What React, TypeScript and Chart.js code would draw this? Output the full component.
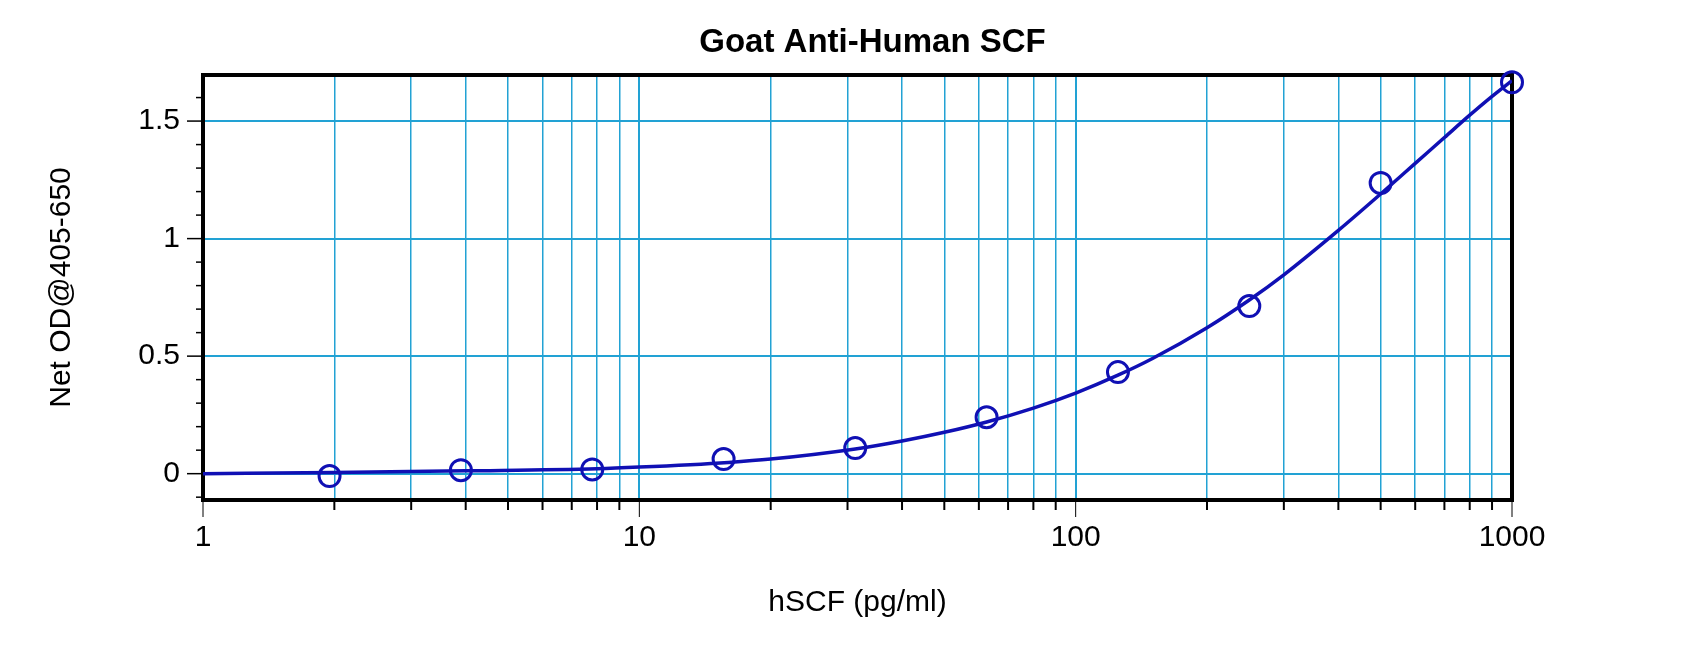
import { useEffect, useRef } from "react"
import { Chart, registerables } from "chart.js"
import type { Plugin } from "chart.js"

Chart.register(...registerables)

const chartTitle = "Goat Anti-Human SCF"
const xAxisTitle = "hSCF (pg/ml)"
const yAxisTitle = "Net OD@405-650"

// measured standards (pg/ml) and net OD
const standardConc = [1.95, 3.9, 7.8, 15.6, 31.25, 62.5, 125, 250, 500, 1000]
const standardOD = [-0.01, 0.015, 0.018, 0.062, 0.109, 0.24, 0.432, 0.713, 1.237, 1.665]

// fitted curve
const fitConc = [1, 2, 4, 8, 10, 16, 20, 31.25, 40, 50, 62.5, 80, 100, 125, 150, 200, 250, 300, 400, 500, 600, 700, 800, 900, 1000]
const fitOD = [0, 0.005, 0.012, 0.021, 0.028, 0.048, 0.062, 0.105, 0.139, 0.176, 0.22, 0.279, 0.343, 0.419, 0.49, 0.621, 0.739, 0.846, 1.035, 1.19, 1.32, 1.43, 1.525, 1.605, 1.672]

const xGridValues = [1, 2, 3, 4, 5, 6, 7, 8, 9, 10, 20, 30, 40, 50, 60, 70, 80, 90, 100, 200, 300, 400, 500, 600, 700, 800, 900, 1000]
const xLabelValues = [1, 10, 100, 1000]
const yLabelValues = [0, 0.5, 1, 1.5]
const yMinorValues = [-0.1, 0.1, 0.2, 0.3, 0.4, 0.6, 0.7, 0.8, 0.9, 1.1, 1.2, 1.3, 1.4, 1.6]

const fontFamily = "'Liberation Sans', Arial, sans-serif"
const gridColor = "#22a2d4"
const curveColor = "#1010b4"

const frameAndTicks: Plugin = {
  id: "frameAndTicks",
  beforeDatasetsDraw(chart) {
    const { ctx, chartArea: a, scales } = chart
    const xs = scales.x
    const ys = scales.y
    const line = (x1: number, y1: number, x2: number, y2: number) => {
      ctx.beginPath()
      ctx.moveTo(x1, y1)
      ctx.lineTo(x2, y2)
      ctx.stroke()
    }
    ctx.save()
    ctx.strokeStyle = "#000"
    ctx.lineWidth = 1.5
    yLabelValues.forEach((v) => {
      const py = ys.getPixelForValue(v)
      line(a.left - 16, py, a.left, py)
    })
    yMinorValues.forEach((v) => {
      const py = ys.getPixelForValue(v)
      line(a.left - 7, py, a.left, py)
    })
    xGridValues.forEach((v) => {
      const px = xs.getPixelForValue(v)
      const major = xLabelValues.includes(v)
      ctx.lineWidth = major ? 1 : 2
      line(px, a.bottom, px, a.bottom + (major ? 17 : 10))
    })
    // frame round the plot
    ctx.lineWidth = 4
    ctx.strokeRect(a.left, a.top, a.right - a.left, a.bottom - a.top)
    ctx.restore()
  },
  afterDraw(chart) {
    const { ctx, chartArea: a } = chart
    ctx.save()
    ctx.fillStyle = "#000"
    ctx.font = `bold 33px ${fontFamily}`
    ctx.textAlign = "center"
    ctx.textBaseline = "alphabetic"
    ctx.fillText(chartTitle, (a.left + a.right) / 2 + 15, 52)
    ctx.restore()
  },
}

export default function App() {
  const chartRef = useRef<HTMLCanvasElement>(null)
  const chartInstance = useRef<Chart | null>(null)

  useEffect(() => {
    if (!chartRef.current) return
    if (chartInstance.current) chartInstance.current.destroy()

    const ctx = chartRef.current.getContext("2d")
    if (!ctx) return

    chartInstance.current = new Chart(ctx, {
      type: "line",
      data: {
        datasets: [
          {
            label: "Fit",
            data: fitConc.map((c, i) => ({ x: c, y: fitOD[i] })),
            borderColor: curveColor,
            borderWidth: 3.5,
            pointRadius: 0,
            cubicInterpolationMode: "monotone",
            fill: false,
          },
          {
            label: "Standards",
            data: standardConc.map((c, i) => ({ x: c, y: standardOD[i] })),
            showLine: false,
            borderColor: curveColor,
            pointBorderColor: curveColor,
            pointBackgroundColor: "rgba(0,0,0,0)",
            pointRadius: 10.5,
            pointBorderWidth: 3,
            clip: false,
          },
        ],
      },
      plugins: [frameAndTicks],
      options: {
        animation: false,
        responsive: true,
        maintainAspectRatio: false,
        layout: {
          padding: { left: 0, right: 188, top: 75, bottom: 0 },
        },
        plugins: {
          legend: { display: false },
          title: { display: false },
          tooltip: { enabled: false },
        },
        scales: {
          x: {
            type: "logarithmic",
            min: 1,
            max: 1000,
            afterBuildTicks: (s) => {
              s.ticks = xGridValues.map((v) => ({ value: v }))
            },
            afterFit: (s) => {
              s.height = 148
            },
            border: { display: false },
            grid: {
              drawTicks: false,
              color: (c) => (c.tick && (c.tick.value === 1 || c.tick.value === 1000) ? "rgba(0,0,0,0)" : gridColor),
              lineWidth: (c) => (c.tick && xLabelValues.includes(c.tick.value) ? 2 : 1.5),
            },
            ticks: {
              autoSkip: false,
              maxRotation: 0,
              minRotation: 0,
              padding: 20,
              color: "#000",
              font: { family: fontFamily, size: 30 },
              callback: (v) => (xLabelValues.includes(Number(v)) ? String(v) : ""),
            },
            title: {
              display: true,
              text: xAxisTitle,
              color: "#000",
              font: { family: fontFamily, size: 30 },
              padding: { top: 0, bottom: 27 },
            },
          },
          y: {
            min: -0.112,
            max: 1.696,
            afterBuildTicks: (s) => {
              s.ticks = yLabelValues.map((v) => ({ value: v }))
            },
            afterFit: (s) => {
              s.width = 203
            },
            border: { display: false },
            grid: {
              drawTicks: false,
              color: gridColor,
              lineWidth: 2,
            },
            ticks: {
              padding: 23,
              color: "#000",
              font: { family: fontFamily, size: 30 },
              callback: (v) => String(v),
            },
            title: {
              display: true,
              text: yAxisTitle,
              color: "#000",
              font: { family: fontFamily, size: 30 },
              padding: { top: 44, bottom: 0 },
            },
          },
        },
      },
    })

    return () => {
      if (chartInstance.current) {
        chartInstance.current.destroy()
        chartInstance.current = null
      }
    }
  }, [])

  return (
    <div style={{ position: "absolute", left: 0, top: 0, width: 1700, height: 648, background: "#fff" }}>
      <canvas ref={chartRef} />
    </div>
  )
}
